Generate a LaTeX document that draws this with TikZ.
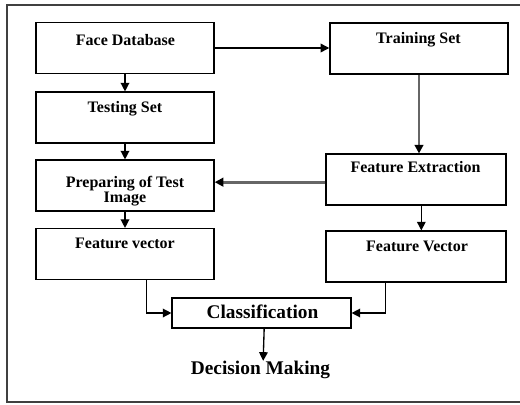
\documentclass[tikz,border=0pt]{standalone}
\usepackage{fontspec}
\setmainfont{Liberation Serif}
\usetikzlibrary{arrows.meta}
\tikzstyle{box} = [rectangle, minimum width=133.5pt, minimum height=38pt, inner sep=0pt, draw=black, line width=1.1pt]
\tikzstyle{boxtext} = [font=\bfseries\fontsize{12}{10.5}\selectfont, align=center, inner sep=0pt]
\tikzstyle{bigtext} = [font=\bfseries\fontsize{14.5}{16}\selectfont, inner sep=0pt]
\tikzstyle{arrow} = [line width=1pt, -{Triangle[length=6.5pt,width=6.5pt]}]
\tikzstyle{grayarrow} = [line width=2pt, draw=black!60, -{Triangle[length=6.5pt,width=6.5pt,color=black]}]

\begin{document}
\begin{tikzpicture}[x=0.75pt, y=-0.75pt]

			\useasboundingbox (0,0) rectangle (520,404);
			\draw [line width=1.5pt, black!75] (7,5) rectangle (520.5,402);

			% Kolom kiri
			\node (facedb) [box] at (125,48) {};
			\node (testset) [box] at (125,117.5) {};
			\node (prepare) [box] at (125,185.5) {};
			\node (vecleft) [box] at (125,254) {};

			% Kolom kanan
			\node (trainset) [box] at (419,48.5) {};
			\node (extract) [box, minimum width=135pt] at (416,179.5) {};
			\node (vecright) [box, minimum width=135pt] at (416,256.5) {};

			% Baris bawah
			\node (classify) [box, minimum width=134pt, minimum height=22.5pt] at (261.5,313) {};

			% Teks di dalam kotak
			\node (facedbtxt) [boxtext, anchor=base] at (125.5,45.5) {Face Database};
			\node (testsettxt) [boxtext, anchor=base] at (125,112.5) {Testing Set};
			\node (preparetxt) [boxtext] at (125,191) {Preparing of Test\\Image};
			\node (veclefttxt) [boxtext, anchor=base] at (125,248.5) {Feature vector};
			\node (trainsettxt) [boxtext, anchor=base] at (418.5,43.5) {Training Set};
			\node (extracttxt) [boxtext, anchor=base] at (415.5,172.5) {Feature Extraction};
			\node (vecrighttxt) [boxtext, anchor=base] at (417,251.5) {Feature Vector};
			\node (classifytxt) [bigtext, anchor=base] at (262.5,318.5) {Classification};
			\node (decision) [bigtext, anchor=base] at (260.5,374.5) {Decision Making};

			% Panah vertikal kiri
			\draw [arrow] (facedb.south) -- (testset.north);
			\draw [arrow] (testset.south) -- (prepare.north);
			\draw [arrow] (prepare.south) -- (vecleft.north);

			% Panah kanan
			\draw [arrow] (facedb.east) -- (facedb.east -| trainset.west);
			\draw [grayarrow] (trainset.south) -- (trainset.south |- extract.north);
			\draw [grayarrow] ([yshift=-2pt]extract.west) -- ([yshift=-2pt]extract.west -| prepare.east);
			\draw [arrow] ([xshift=4pt]extract.south) -- ([xshift=4pt]extract.south |- vecright.north);

			% Panah ke klasifikasi
			\draw [arrow] ([xshift=16pt]vecleft.south) |- (classify.west);
			\draw [arrow] ([xshift=-23pt]vecright.south) |- (classify.east);
			\draw [arrow] ([xshift=2pt]classify.south) -- ([xshift=2pt]decision.north);

		\end{tikzpicture}
\end{document}
